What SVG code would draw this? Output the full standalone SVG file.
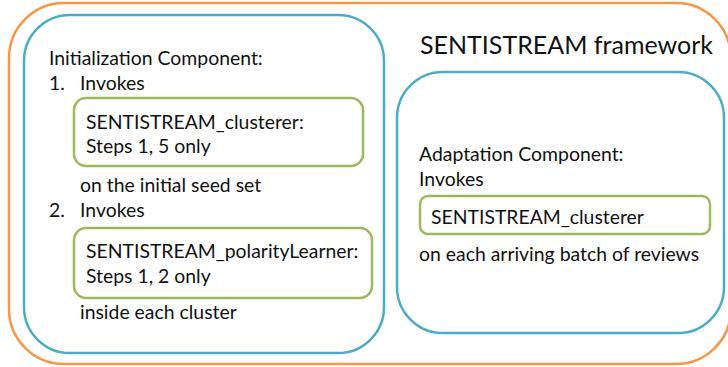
<svg xmlns="http://www.w3.org/2000/svg" width="728" height="367" viewBox="0 0 728 367">
  <style>
    text { font-family: Lato, "Open Sans", sans-serif; font-size: 19.4px; fill: #111; }
    .frame { fill: none; stroke: #F79646; stroke-width: 2.5; }
    .comp { fill: none; stroke: #4BACC6; stroke-width: 2.5; }
    .call { fill: none; stroke: #9BBB59; stroke-width: 2.5; }
    .title { font-size: 25px; }
  </style>
  <rect width="728" height="367" fill="#fff"/>

  <g id="framework">
    <rect class="frame" x="9" y="3" width="722" height="361" rx="55" ry="55"/>
    <text class="title" x="420" y="54">SENTISTREAM framework</text>
  </g>

  <g id="initialization">
    <rect class="comp" x="24" y="15" width="360" height="338" rx="46" ry="46"/>
    <text x="49" y="65">Initialization Component:</text>
    <text x="49" y="90">1.</text>
    <text x="80" y="90">Invokes</text>
    <text x="80" y="192">on the initial seed set</text>
    <text x="49" y="217">2.</text>
    <text x="80" y="217">Invokes</text>
    <text x="80" y="319">inside each cluster</text>
  </g>

  <g id="init-clusterer">
    <rect class="call" x="74" y="98" width="289" height="68" rx="12" ry="12"/>
    <text x="86" y="128.5">SENTISTREAM_clusterer:</text>
    <text x="86" y="152.5">Steps 1, 5 only</text>
  </g>

  <g id="init-polarity">
    <rect class="call" x="74" y="228" width="298" height="70" rx="12" ry="12"/>
    <text x="86" y="258">SENTISTREAM_polarityLearner:</text>
    <text x="86" y="282.5">Steps 1, 2 only</text>
  </g>

  <g id="adaptation">
    <rect class="comp" x="397" y="72" width="327" height="261" rx="46" ry="46"/>
    <text x="419" y="161">Adaptation Component:</text>
    <text x="419" y="185.5">Invokes</text>
    <text x="419" y="261">on each arriving batch of reviews</text>
  </g>

  <g id="adapt-clusterer">
    <rect class="call" x="420" y="196" width="290" height="38" rx="8" ry="8"/>
    <text x="431" y="223.5">SENTISTREAM_clusterer</text>
  </g>

  <g id="connectors"></g>
</svg>
